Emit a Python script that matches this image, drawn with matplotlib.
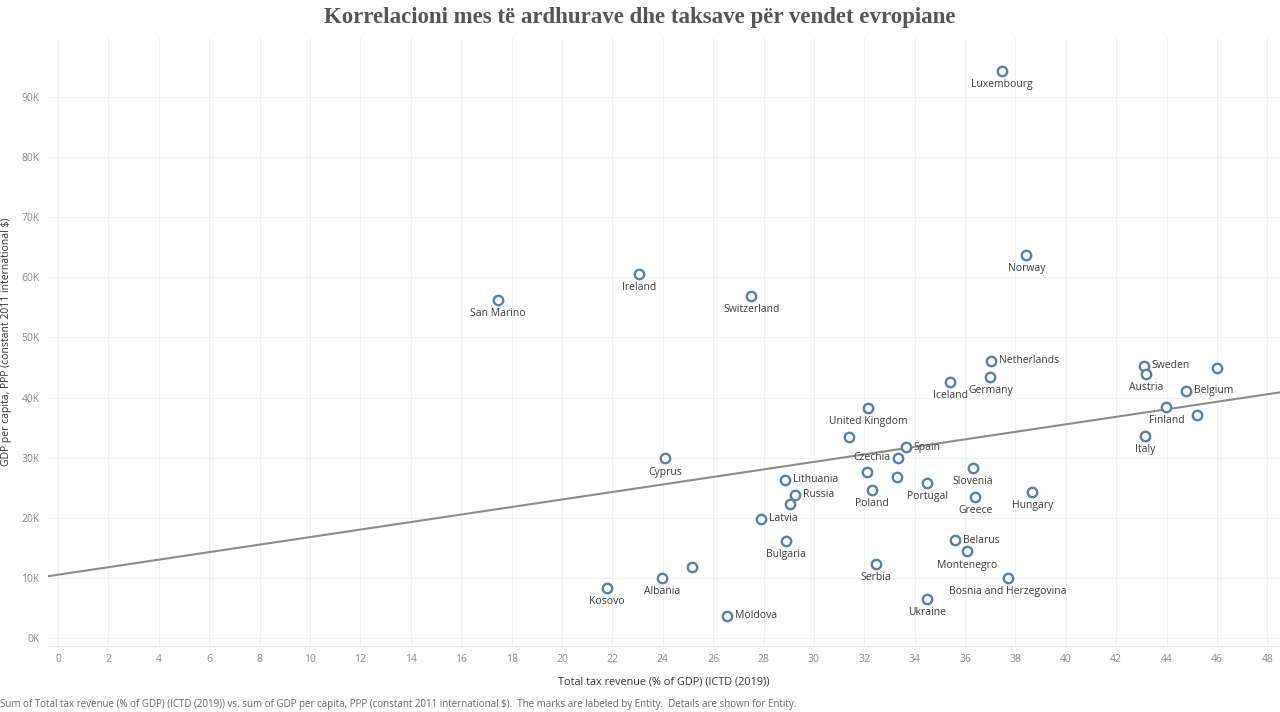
import matplotlib
matplotlib.use("Agg")
import matplotlib.pyplot as plt
import numpy as np

# data (tax % of GDP, GDP per capita in K$)
countries = ["Luxembourg", "Norway", "Ireland", "San Marino", "Switzerland",
             "Netherlands", "Germany", "Iceland", "Sweden", "Austria", "",
             "Belgium", "Finland", "", "Italy", "United Kingdom", "", "Spain",
             "Czechia", "", "", "Portugal", "Poland", "Slovenia", "Greece",
             "Hungary", "Lithuania", "Russia", "", "Latvia", "Bulgaria",
             "Cyprus", "Belarus", "Montenegro", "Serbia",
             "Bosnia and Herzegovina", "Ukraine", "Moldova", "Kosovo",
             "Albania", ""]
tax = [37.47, 38.43, 23.07, 17.47, 27.51,
       37.04, 37.00, 35.41, 43.10, 43.18, 46.00,
       44.78, 43.99, 45.20, 43.15, 32.16, 31.41, 33.64,
       33.33, 32.09, 33.29, 34.50, 32.31, 36.32, 36.40,
       38.67, 28.86, 29.26, 29.06, 27.91, 28.90,
       24.10, 35.61, 36.09, 32.47,
       37.71, 34.50, 26.56, 21.79,
       23.98, 25.17]
gdp = [94.3, 63.7, 60.6, 56.2, 56.9,
       46.1, 43.4, 42.6, 45.3, 43.9, 44.9,
       41.1, 38.4, 37.1, 33.6, 38.3, 33.4, 31.7,
       30.0, 27.6, 26.8, 25.8, 24.6, 28.3, 23.5,
       24.3, 26.3, 23.8, 22.3, 19.8, 16.2,
       29.9, 16.3, 14.4, 12.3,
       10.0, 6.5, 3.7, 8.3,
       10.0, 11.8]

# where each label sits relative to its mark
right_side = {"Moldova", "Latvia", "Lithuania", "Russia", "Spain", "Belarus",
              "Netherlands", "Sweden", "Belgium"}
left_side = {"Czechia"}

x_ticks = list(range(0, 49, 2))
y_ticks = list(range(0, 91, 10))

fig = plt.figure(figsize=(12.8, 7.12), dpi=100)
ax = fig.add_axes([48 / 1280, 66 / 712, 1232 / 1280, 608 / 712])

blue = "#5b7fa9"
x = np.array(tax)
y = np.array(gdp)

# linear trend line
k, b = np.polyfit(x, y, 1)
xl = np.array([-0.4, 48.5])
ax.plot(xl, k * xl + b, color="#8c8c8c", lw=1.5, zorder=2)

ax.scatter(x, y, s=46, facecolors="white", edgecolors=blue, linewidths=1.7,
           zorder=3)

lab_font = dict(fontsize=7.5, color="#3a3a3a", family="Open Sans")
for name, xi, yi in zip(countries, tax, gdp):
    if not name:
        continue
    if name in right_side:
        ax.annotate(name, (xi, yi), xytext=(5.5, 0), textcoords="offset points",
                    ha="left", va="center", **lab_font)
    elif name in left_side:
        ax.annotate(name, (xi, yi), xytext=(-5.5, 0), textcoords="offset points",
                    ha="right", va="center", **lab_font)
    else:
        ax.annotate(name, (xi, yi), xytext=(0, -6), textcoords="offset points",
                    ha="center", va="top", **lab_font)

ax.set_xlim(-0.4, 48.5)
ax.set_ylim(-1.33, 99.8)
ax.set_xticks(x_ticks)
ax.set_xticklabels([str(t) for t in x_ticks])
ax.set_yticks(y_ticks)
ax.set_yticklabels([f"{t}K" for t in y_ticks])
ax.tick_params(length=0, labelsize=7.5, labelcolor="#8a8a8a", pad=6)
for t in ax.get_xticklabels() + ax.get_yticklabels():
    t.set_family("Open Sans")
ax.grid(True, color="#f1f1f1", lw=0.7)
ax.set_axisbelow(True)
for s in ["top", "right", "left"]:
    ax.spines[s].set_visible(False)
ax.spines["bottom"].set_color("#e8e8e8")

ax.set_xlabel("Total tax revenue (% of GDP) (ICTD (2019))", fontsize=7.8,
              color="#333333", family="Open Sans", labelpad=8)
ax.set_ylabel("GDP per capita, PPP (constant 2011 international $)",
              fontsize=7.5, color="#333333", family="Open Sans")
ax.yaxis.set_label_coords(-0.029, 0.5)

fig.text(0.5, 0.975, "Korrelacioni mes të ardhurave dhe taksave për vendet evropiane",
         ha="center", va="center", fontsize=16.5, fontweight="bold",
         color="#555555", family="Liberation Serif")
fig.text(0.0, 0.011,
         "Sum of Total tax revenue (% of GDP) (ICTD (2019)) vs. sum of GDP per capita, "
         "PPP (constant 2011 international $).  The marks are labeled by Entity.  "
         "Details are shown for Entity.",
         ha="left", va="center", fontsize=7, color="#666666", family="Open Sans")

fig.savefig("out.png", dpi=100)
